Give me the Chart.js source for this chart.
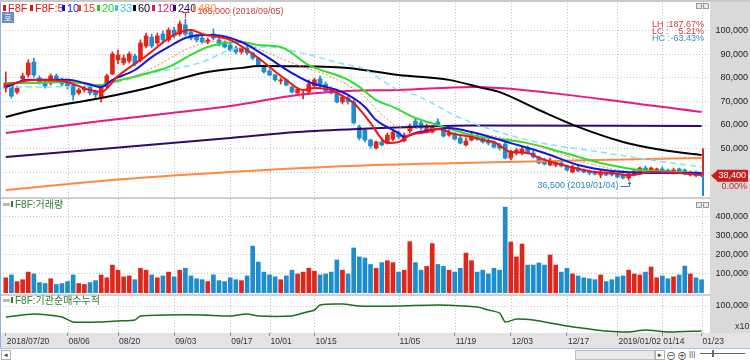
<!DOCTYPE html>
<html>
<head>
<meta charset="utf-8">
<script src="https://cdn.jsdelivr.net/npm/chart.js@4.4.1/dist/chart.umd.min.js"></script>
<style>
  html, body { margin: 0; padding: 0; background: #fff; }
  #wrap { position: relative; width: 750px; height: 360px; overflow: hidden;
          font-family: "Liberation Sans", "Noto Sans CJK KR", sans-serif; }
  .abs { position: absolute; }
  canvas { position: absolute; left: 0; }
  .lg { position: absolute; top: 2px; font-size: 11px; line-height: 13px; white-space: nowrap; }
  .lg i { display: inline-block; width: 3px; height: 6px; margin-right: 2px; vertical-align: 1px; }
  .pt { position: absolute; left: 11px; font-size: 10px; color: #2f7d2f; white-space: nowrap; line-height: 12px; }
  .pt i { display: inline-block; width: 2px; height: 6px; background: #2f7d2f; margin-right: 2px; vertical-align: 1px; }
  .ico { position: absolute; width: 4px; height: 4px; border: 1px solid #9a9a9a; background: #e8e8e8; }
  .rt { position: absolute; left: 652px; width: 52px; font-size: 9px; line-height: 8px; white-space: nowrap;
        display: flex; justify-content: space-between; }
</style>
</head>
<body>
<div id="wrap">
  <div class="abs" style="left:0;top:0;width:750px;height:2px;background:#c9c9c9"></div>
  <div class="abs" style="left:710px;top:2px;width:40px;height:331px;background:#d9d9d9"></div>
  <div class="abs" style="left:0;top:333px;width:750px;height:15px;background:#e3e3e3"></div>
  <div class="abs" style="left:0;top:197px;width:710px;height:2px;background:#d0d0d0"></div>
  <div class="abs" style="left:0;top:294px;width:710px;height:2px;background:#d0d0d0"></div>
  <div class="abs" style="left:0;top:2px;width:1px;height:346px;background:#8fb2dc"></div>

  <canvas id="price" width="750" height="197" style="top:0"></canvas>
  <canvas id="vol" width="750" height="95" style="top:199px"></canvas>
  <canvas id="cum" width="750" height="52" style="top:296px"></canvas>

  <!-- legend -->
  <div class="lg" style="left:3px;color:#e01818"><i style="background:#e01818"></i>F8F</div>
  <div class="lg" style="left:30px;color:#e01818"><i style="background:#e01818"></i>F8F:5</div>
  <div class="lg" style="left:62px;color:#1414e6"><i style="background:#1414e6"></i>10</div>
  <div class="lg" style="left:78px;color:#f03a2a"><i style="background:#f03a2a"></i>15</div>
  <div class="lg" style="left:97px;color:#22cc22"><i style="background:#22cc22"></i>20</div>
  <div class="lg" style="left:115px;color:#33c6ee"><i style="background:#33c6ee"></i>33</div>
  <div class="lg" style="left:133px;color:#000"><i style="background:#000"></i>60</div>
  <div class="lg" style="left:152px;color:#e0157a"><i style="background:#e0157a"></i>120</div>
  <div class="lg" style="left:173px;color:#2e0a6e"><i style="background:#2e0a6e"></i>240</div>
  <div class="lg" style="left:193px;color:#ff8a3d"><i style="background:#ff8a3d"></i>480</div>

  <div class="abs" style="left:2px;top:12px;width:12px;height:11px;background:#6b8cbf;color:#fff;font-size:9px;line-height:11px;text-align:center;font-family:'Noto Sans CJK KR',sans-serif">호</div>

  <div class="ico" style="left:696px;top:3px"></div><div class="ico" style="left:703px;top:3px"></div>
  <div class="ico" style="left:696px;top:202px"></div><div class="ico" style="left:703px;top:202px"></div>

  <div id="lh" class="rt" style="top:20px;color:#d04040"></div>
  <div id="lc" class="rt" style="top:27px;color:#d04040"></div>
  <div id="hc" class="rt" style="top:34px;color:#3a8fc8"></div>

  <div class="abs" style="left:3px;top:203px;width:7px;height:3px;background:#b8b8b8"></div>
  <div class="pt" style="top:199px"><i></i>F8F:거래량</div>
  <div class="abs" style="left:3px;top:299px;width:7px;height:3px;background:#b8b8b8"></div>
  <div class="pt" style="top:295px"><i></i>F8F:기관순매수누적</div>
  <div class="abs" style="left:735px;top:321px;font-size:9px;color:#333">x10</div>

  <!-- bottom bar -->
  <div class="abs" style="left:0;top:348px;width:750px;height:1px;background:#a9c4e6"></div>
  <div class="abs" style="left:1px;top:350px;width:8px;height:8px;border:1px solid #b0b0b0;font-size:7px;line-height:8px;text-align:center;color:#333">◂</div>
  <div class="abs" style="left:575px;top:350px;width:78px;height:8px;border:1px solid #c0c0c0;background:#e8e8e8"></div>
  <div class="abs" style="left:655px;top:350px;width:8px;height:8px;border:1px solid #b0b0b0;font-size:7px;line-height:8px;text-align:center;color:#333">▸</div>
  <div class="abs" style="left:666px;top:348px;font-size:10px;color:#444">⊖</div>
  <div class="abs" style="left:677px;top:348px;font-size:10px;color:#444">⊕</div>
  <div class="abs" style="left:689px;top:349px;font-size:8px;color:#444">|||</div>
  <div class="abs" style="left:700px;top:353px;width:45px;height:1px;background:#666"></div>
  <div class="abs" style="left:712px;top:350px;width:2px;height:7px;background:#666"></div>
</div>

<script>
// 일봉 (2018/07/20 ~ 2019/01/23), index = 거래일 순서
const open = [75700,77000,74000,79600,81300,86800,80000,78300,77900,80900,
  79200,77900,77000,73600,74900,76200,74000,71900,76200,81700,
  87700,86400,87200,89400,87700,93600,97400,94900,98700,96200,
  100400,98700,102600,99600,97900,97000,95300,98700,96200,95300,
  94000,92800,91100,92800,90600,88500,85100,83000,81300,78700,
  79200,76200,73600,72800,74000,76600,79600,77400,75300,73600,
  69800,71500,69800,59200,57900,53600,50200,52800,52300,54000,
  56600,53200,57500,61700,60900,57000,57000,61300,58300,55700,
  56200,54500,51500,53600,55300,54500,53200,52800,51500,51900,
  45950,48100,48100,50200,48100,46400,45100,43000,43000,43850,
  42550,40000,41700,40850,40000,40000,38750,39600,40000,39150,
  38750,37450,38750,40000,41700,40450,40000,41300,40850,39600,
  41300,40850,38750,40000,38750];
const high = [82600,77900,76600,82100,87700,88500,80900,79200,81700,81700,
  80000,78300,77400,75700,76600,76600,74900,77000,81700,91100,
  91900,89800,91100,90200,96200,99100,98700,99100,100000,101300,
  101700,104300,105000,100400,98700,97900,97000,100900,97000,95700,
  94900,93600,93600,94000,91100,88900,85500,83800,81700,80000,
  79600,76600,75700,74500,79200,80000,80900,78300,76200,74500,
  72800,72300,70600,60000,58700,54000,53200,53600,56600,57900,
  57500,56600,60400,63000,61700,60400,59600,62600,58700,58700,
  56600,55300,54500,56600,56200,54900,54000,53200,52300,52800,
  49350,50200,50600,51100,48950,46800,45950,45950,45100,44700,
  43000,43000,42550,41300,40850,40450,40850,40000,40450,39600,
  39150,39600,40850,42150,42550,42150,41700,42150,41300,41700,
  41700,41300,40450,40450,39150];
const low = [74000,71500,73200,79200,80400,80400,77400,75700,77000,78300,
  76600,75300,70600,72800,74000,72800,71100,69800,75700,81300,
  86000,85500,86400,85100,86800,92800,92800,94000,95300,95300,
  97000,97900,97900,96200,95300,94900,94500,96200,93600,92800,
  91500,90200,90200,89800,87700,84700,82100,80900,78700,77400,
  76600,73600,73200,71100,73200,76200,75700,74000,73200,69400,
  68900,68900,60400,53600,52800,50200,49800,51100,51900,53200,
  54000,52800,56600,58700,57900,56600,56600,59600,54900,55300,
  53600,51900,51100,53200,53600,52300,51500,50200,49350,45550,
  45100,47250,47250,47650,45950,43400,43000,42550,42150,42150,
  40450,39600,40000,39600,38750,38750,37450,38300,38300,37450,
  37050,36500,38300,39600,40000,40000,39600,39600,39150,39150,
  39600,38750,38300,37900,37900];
const close = [77900,72300,75700,80900,86400,81300,78300,76600,80900,79200,
  77400,76600,72800,74900,75700,73600,72800,76200,80900,90200,
  89800,88500,90200,86000,94900,97900,93600,97900,96200,100400,
  97900,103000,98700,97000,96200,95300,96200,97000,94000,93200,
  91900,91100,92800,90600,88500,85100,82600,81300,79200,79200,
  77000,74000,75300,73200,77400,79200,76600,74500,73600,69800,
  71900,69800,60900,54500,53600,51100,52800,51500,55700,57000,
  54900,55700,59600,59200,58700,59600,59200,60000,55300,56600,
  54000,52300,53200,55700,54000,52800,52300,50600,50200,45950,
  48500,49350,49800,48100,46400,43850,43400,45100,44250,42550,
  40850,42150,40450,40000,39600,39150,39600,38750,38750,37900,
  37450,39150,40450,41700,40450,41700,41300,40000,39600,40850,
  40000,39150,40000,38400,38400];
const volume = [80000,95000,60000,70000,110000,100000,55000,50000,75000,45000,
  50000,60000,95000,50000,45000,55000,65000,95000,80000,147000,
  120000,85000,90000,70000,130000,120000,95000,80000,90000,110000,
  85000,120000,130000,90000,75000,70000,60000,95000,65000,60000,
  80000,70000,65000,90000,247000,163000,110000,95000,85000,70000,
  90000,120000,100000,110000,130000,115000,95000,100000,110000,174000,
  120000,100000,237000,190000,184000,150000,130000,160000,170000,160000,
  110000,120000,270000,160000,120000,140000,260000,150000,140000,120000,
  110000,130000,210000,170000,110000,120000,100000,130000,120000,452000,
  268000,190000,258000,147000,147000,158000,147000,200000,147000,110000,
  130000,100000,90000,80000,75000,70000,95000,60000,70000,85000,
  90000,120000,100000,95000,110000,137000,80000,90000,75000,85000,
  95000,142000,100000,80000,70000];

// 이동평균선 (그림에서 읽은 값, 거래일 index 기준)
const ma5Idx = [0,5,10,15,17,20,25,30,33,35,40,43,45,50,53,55,58,60,62,65,67,68,70,72,75,77,80,83,85,87,90,93,95,100,105,108,111,113,115,120,124];
const ma5Val = [77000,79150,78700,74900,74050,80850,89350,98300,100400,98700,96200,91900,88500,79150,74900,75750,74900,72350,69350,60850,54050,52350,52750,55750,57000,58300,56150,54900,53600,52750,48500,48100,46000,42550,40000,39600,38700,39150,40000,39600,38700];
const ma10Idx = [0,4,11,14,17,19,23,26,29,32,35,37,42,46,51,54,59,61,64,66,70,71,73,76,79,83,90,96,102,108,117,124];
const ma10Val = [76200,79200,79200,77900,76200,79200,83400,88900,93200,97000,98300,98300,95300,89800,82100,78300,74900,72800,67700,62100,56600,54900,56600,57900,58700,57000,52300,48100,43000,40450,39600,39600];
const ma15Idx = [0,11,17,20,24,29,32,37,42,44,52,58,64,67,71,76,81,83,93,105,111,124];
const ma15Val = [77400,78500,76800,78500,81800,88000,92000,95500,95800,93500,85500,80500,71900,64500,58500,58500,58000,57000,52300,43000,40300,39600];
const ma20Idx = [0,5,11,17,19,24,29,33,36,42,45,49,54,61,63,66,69,73,77,83,93,99,106,113,124];
const ma20Val = [77900,77900,78300,77000,78300,81300,84700,89800,93200,95300,94000,93200,85500,79200,76200,70600,67700,63000,60000,55700,52300,48500,43850,40850,39600];
const ma33Idx = [0,5,17,26,35,40,44,47,52,61,63,70,73,81,93,106,115,124];
const ma33Val = [76200,76200,77000,82100,86800,91900,93200,93200,91100,85500,84700,74900,72800,63000,53600,48500,45100,42150];
const ma60Idx = [0,5,17,26,35,42,45,58,61,70,79,85,88,95,102,110,117,124];
const ma60Val = [63400,66400,71500,76200,82100,84300,85100,84700,84300,81300,79200,75700,74000,66400,59200,52800,49350,47250];
const ma120Idx = [0,17,31,40,52,61,70,83,88,106,124];
const ma120Val = [56600,61700,65500,68100,72800,74500,74900,76200,75700,71100,65500];
const ma240Idx = [0,40,52,63,83,124];
const ma240Val = [46400,54500,57000,58300,59800,59600];
const ma480Idx = [0,17,40,61,81,106,124];
const ma480Val = [32350,36200,40000,42550,43850,45100,45950];

// 기관 순매수 누적 (x10)
const cumIdx = [0,5,10,12,17,20,23,24,29,35,40,43,45,51,53,55,56,60,63,70,77,84,86,88,89,91,94,97,100,104,107,111,114,118,124];
const cumVal = [67000,76000,67000,52000,52000,55000,58000,70000,73000,73000,70000,76000,70000,70000,79000,88000,103000,106000,100000,100000,103000,97000,88000,79000,52000,61000,58000,49000,40000,31000,25000,22000,28000,22000,25000];

// 축 눈금
const priceTicks = [40000, 50000, 60000, 70000, 80000, 90000, 100000];
const volTicks = [100000, 200000, 300000, 400000];
const cumTicks = [100000];
const dateIdx = [0,11,20,30,40,47,55,70,80,90,100,109,117,124];
const dateLbl = ['2018/07/20','08/06','08/20','09/03','09/17','10/01','10/15','11/05','11/19','12/03','12/17','2019/01/02','01/14','01/23'];
const hiDate = '2018/09/05', loDate = '2019/01/04';

const FONT = '"Liberation Sans", "Noto Sans CJK KR", sans-serif';
Chart.defaults.font.family = FONT;
Chart.defaults.font.size = 9;
Chart.defaults.color = '#222';
Chart.defaults.animation = false;
Chart.defaults.responsive = false;
Chart.defaults.plugins.legend.display = false;
Chart.defaults.plugins.tooltip.enabled = false;

const UP = '#e0251b', DN = '#1d8dcf';
const days = open.map((_, i) => i);
const candleColor = i => close[i] >= open[i] ? UP : DN;
const fmt = v => v.toLocaleString('en-US');

const hiVal = Math.max(...high), loVal = Math.min(...low);
const hiIdx = high.indexOf(hiVal), loIdx = low.indexOf(loVal);
const last = close[close.length - 1], prev = close[close.length - 2];

function ratio(id, name, v) {
  document.getElementById(id).innerHTML = '<span>' + name + ' :</span><span>' + v.toFixed(2) + '%</span>';
}
ratio('lh', 'LH', hiVal / loVal * 100 - 100);
ratio('lc', 'LC', last / loVal * 100 - 100);
ratio('hc', 'HC', last / hiVal * 100 - 100);

const xHidden = { type: 'linear', min: -0.5, max: 125.5, offset: false, bounds: 'data', display: false };

// 세로 점선 격자
const vgrid = {
  id: 'vgrid',
  beforeDatasetsDraw(chart) {
    const { ctx, chartArea: a, scales: { x } } = chart;
    ctx.save();
    ctx.strokeStyle = '#c4c4c4';
    ctx.lineWidth = 1;
    ctx.setLineDash([1, 2]);
    dateIdx.slice(1).forEach(v => {
      const px = Math.round(x.getPixelForValue(v)) + 0.5;
      ctx.beginPath(); ctx.moveTo(px, a.top); ctx.lineTo(px, a.bottom); ctx.stroke();
    });
    ctx.restore();
  }
};

// 최고/최저 표시, 현재가 태그
const priceMarks = {
  id: 'priceMarks',
  afterDraw(chart) {
    const { ctx, chartArea: a, scales: { x, y } } = chart;
    ctx.save();
    ctx.font = '9px ' + FONT;
    ctx.lineWidth = 1;

    const hx = Math.round(x.getPixelForValue(hiIdx)) + 0.5;
    const hy = Math.round(y.getPixelForValue(hiVal));
    ctx.strokeStyle = '#d03030';
    ctx.beginPath();
    ctx.moveTo(hx, hy - 1); ctx.lineTo(hx, hy - 6);
    ctx.moveTo(hx - 3, hy - 6.5); ctx.lineTo(hx + 4, hy - 6.5);
    ctx.stroke();
    ctx.fillStyle = '#c83a3a';
    ctx.textBaseline = 'middle';
    ctx.textAlign = 'left';
    ctx.fillText(fmt(hiVal) + ' (' + hiDate + ')', hx + 12, hy - 7);

    const lx = Math.round(x.getPixelForValue(loIdx)) + 0.5;
    const ly = Math.round(y.getPixelForValue(loVal));
    ctx.strokeStyle = '#2b86c0';
    ctx.fillStyle = '#2b86c0';
    ctx.beginPath();
    ctx.moveTo(lx - 9, ly + 6.5); ctx.lineTo(lx, ly + 6.5); ctx.lineTo(lx, ly + 2);
    ctx.stroke();
    ctx.beginPath(); ctx.moveTo(lx, ly + 1); ctx.lineTo(lx - 2, ly + 4); ctx.lineTo(lx + 2, ly + 4); ctx.fill();
    ctx.textAlign = 'right';
    ctx.fillText(fmt(loVal) + ' (' + loDate + ')', lx - 11, ly + 6);

    // 현재가 범위 막대
    const ty = y.getPixelForValue(last);
    const top = y.getPixelForValue(50000);
    ctx.fillStyle = '#d02a2a';
    ctx.fillRect(702, top, 2, ty - top);
    ctx.fillStyle = '#1d8dcf';
    ctx.fillRect(702, ty, 2, a.bottom - ty);

    // 현재가 태그
    ctx.fillStyle = '#c81e1e';
    ctx.beginPath(); ctx.moveTo(711, ty); ctx.lineTo(717, ty - 5); ctx.lineTo(717, ty + 5); ctx.fill();
    ctx.fillRect(717, ty - 6, 31, 12);
    ctx.fillStyle = '#fff';
    ctx.textAlign = 'right';
    ctx.fillText(fmt(last), 746, ty);
    ctx.fillStyle = '#d02020';
    ctx.fillText(((last / prev - 1) * 100).toFixed(2) + '%', 747, ty + 11);
    ctx.restore();
  }
};

function maLine(idx, val, color, width, dash, order) {
  return {
    type: 'line',
    data: idx.map((d, k) => ({ x: d, y: val[k] })),
    borderColor: color, borderWidth: width, borderDash: dash || [],
    pointRadius: 0, cubicInterpolationMode: 'monotone', fill: false, order: order
  };
}

function rightY(min, max, tickVals, hide) {
  return {
    position: 'right', min: min, max: max, bounds: 'data',
    grid: { color: '#c6c6c6', drawTicks: false, tickLength: 0 },
    border: { display: false, dash: [1, 2] },
    ticks: { autoSkip: false, crossAlign: 'far', padding: 0, color: '#222', font: { size: 9 },
             callback: v => (hide && hide.includes(v)) ? '' : fmt(v) },
    afterBuildTicks: s => { s.ticks = tickVals.map(v => ({ value: v })); },
    afterFit: s => { s.width = 38; s.paddingTop = 0; s.paddingBottom = 0; }
  };
}

new Chart(document.getElementById('price'), {
  type: 'bar',
  data: {
    datasets: [
      maLine(ma480Idx, ma480Val, '#ff8a3d', 2, null, 9),
      maLine(ma240Idx, ma240Val, '#2e0a6e', 2, null, 8),
      maLine(ma120Idx, ma120Val, '#ec1a7a', 2, null, 7),
      maLine(ma60Idx, ma60Val, '#000000', 2, null, 6),
      maLine(ma33Idx, ma33Val, '#7fe3ff', 1.5, [6, 4], 5),
      maLine(ma20Idx, ma20Val, '#2ee02e', 2, null, 4),
      maLine(ma15Idx, ma15Val, '#ff7a4a', 1, [2, 2], 3),
      maLine(ma10Idx, ma10Val, '#1414e6', 2, null, 2),
      maLine(ma5Idx, ma5Val, '#f01414', 2, null, 1),
      { type: 'bar', data: days.map(i => ({ x: i, y: [low[i], high[i]] })),
        backgroundColor: c => candleColor(c.dataIndex), barThickness: 1, grouped: false, order: 21 },
      { type: 'bar', data: days.map(i => ({ x: i, y: [open[i], close[i]] })),
        backgroundColor: c => candleColor(c.dataIndex), barThickness: 4, minBarLength: 1, grouped: false, order: 20 }
    ]
  },
  options: {
    layout: { padding: { left: 3, right: 2, top: 3, bottom: 1 } },
    scales: {
      x: xHidden,
      y: rightY(29800, 111900, priceTicks, [40000])
    }
  },
  plugins: [vgrid, priceMarks]
});

new Chart(document.getElementById('vol'), {
  type: 'bar',
  data: {
    datasets: [{
      data: days.map(i => ({ x: i, y: volume[i] })),
      backgroundColor: c => candleColor(c.dataIndex), barThickness: 4, grouped: false
    }]
  },
  options: {
    layout: { padding: { left: 3, right: 2, top: 0, bottom: 1 } },
    scales: {
      x: xHidden,
      y: rightY(0, 494700, volTicks)
    }
  },
  plugins: [vgrid]
});

new Chart(document.getElementById('cum'), {
  type: 'line',
  data: {
    datasets: [{
      data: cumIdx.map((d, k) => ({ x: d, y: cumVal[k] })),
      borderColor: '#1b6e1b', borderWidth: 1.5, pointRadius: 0, tension: 0.2, fill: false
    }]
  },
  options: {
    layout: { padding: { left: 3, right: 2, top: 0, bottom: 0 } },
    scales: {
      x: {
        type: 'linear', min: -0.5, max: 125.5, offset: false, bounds: 'data',
        grid: { drawOnChartArea: false, drawTicks: true, tickLength: 3, color: '#8c8c8c' },
        border: { display: false },
        ticks: { autoSkip: false, maxRotation: 0, minRotation: 0, align: 'start', labelOffset: 1, padding: 1,
                 color: '#333', font: { size: 8.5 },
                 callback: v => { const k = dateIdx.indexOf(v); return k < 0 ? '' : dateLbl[k]; } },
        afterBuildTicks: s => { s.ticks = dateIdx.map(v => ({ value: v })); },
        afterFit: s => { s.height = 15; s.paddingLeft = 0; s.paddingRight = 0; }
      },
      y: rightY(19000, 130000, cumTicks)
    }
  },
  plugins: [vgrid]
});
</script>
</body>
</html>
